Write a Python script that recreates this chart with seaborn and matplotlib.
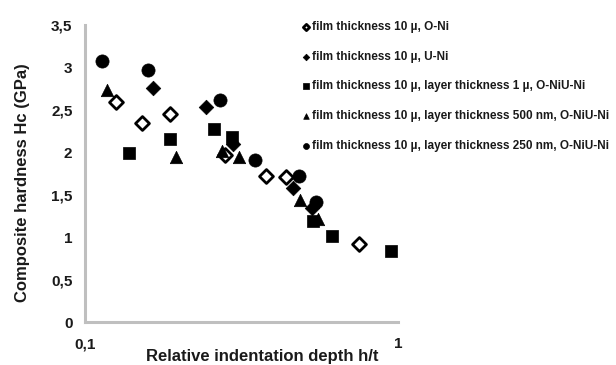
import numpy as np
import pandas as pd
import matplotlib
matplotlib.use("Agg")
import matplotlib.pyplot as plt
import seaborn as sns

# Relative indentation depth h/t and composite hardness Hc (GPa) per coating
on_x = [0.126, 0.152, 0.187, 0.280, 0.378, 0.438, 0.750]
on_y = [2.59, 2.35, 2.45, 1.97, 1.72, 1.71, 0.92]

un_x = [0.165, 0.243, 0.296, 0.463, 0.530]
un_y = [2.76, 2.53, 2.10, 1.58, 1.34]

l1_x = [0.138, 0.187, 0.258, 0.294, 0.536, 0.614, 0.948]
l1_y = [1.99, 2.16, 2.28, 2.18, 1.19, 1.01, 0.84]

l500_x = [0.118, 0.196, 0.273, 0.311, 0.486, 0.556]
l500_y = [2.73, 1.95, 2.01, 1.94, 1.44, 1.21]

l250_x = [0.113, 0.159, 0.270, 0.349, 0.484, 0.549]
l250_y = [3.08, 2.97, 2.62, 1.91, 1.72, 1.41]

series_names = [
    "film thickness 10 \u00b5, O-Ni",
    "film thickness 10 \u00b5, U-Ni",
    "film thickness 10 \u00b5, layer thickness 1 \u00b5, O-NiU-Ni",
    "film thickness 10 \u00b5, layer thickness 500 nm, O-NiU-Ni",
    "film thickness 10 \u00b5, layer thickness 250 nm, O-NiU-Ni",
]

y_ticks = [0, 0.5, 1, 1.5, 2, 2.5, 3, 3.5]
y_tick_labels = ["0", "0,5", "1", "1,5", "2", "2,5", "3", "3,5"]
x_ticks = [0.1, 1]
x_tick_labels = ["0,1", "1"]

frames = []
for name, xs, ys in zip(series_names,
                        [on_x, un_x, l1_x, l500_x, l250_x],
                        [on_y, un_y, l1_y, l500_y, l250_y]):
    frames.append(pd.DataFrame({"depth": xs, "hardness": ys, "coating": name}))
df = pd.concat(frames, ignore_index=True)

sns.set_theme(style="white")
plt.rcParams["font.family"] = ["Liberation Sans", "DejaVu Sans"]
plt.rcParams["font.weight"] = "bold"

fig = plt.figure(figsize=(6.16, 3.65), dpi=100)
ax = fig.add_axes([85 / 616, 43 / 365, 313 / 616, 297 / 365])

styles = [
    dict(marker="D", s=50, facecolor="white", edgecolor="black", linewidth=2.0),
    dict(marker="D", s=55, color="black", edgecolor="black", linewidth=0.5),
    dict(marker="s", s=70, color="black", edgecolor="black", linewidth=0.5),
    dict(marker="^", s=80, color="black", edgecolor="black", linewidth=0.5),
    dict(marker="o", s=90, color="black", edgecolor="black", linewidth=0.5),
]

for name, st in zip(series_names, styles):
    sub = df[df["coating"] == name]
    sns.scatterplot(data=sub, x="depth", y="hardness", ax=ax, label=name,
                    zorder=3, **st)

ax.set_xscale("log")
ax.set_xlim(0.1, 1)
ax.set_ylim(0, 3.5)
ax.set_xticks(x_ticks)
ax.set_xticklabels(x_tick_labels)
ax.minorticks_off()
ax.set_yticks(y_ticks)
ax.set_yticklabels(y_tick_labels)
ax.tick_params(axis="both", length=0, labelsize=11, colors="#1a1a1a")
ax.tick_params(axis="y", pad=9)
ax.tick_params(axis="x", pad=11)
for lab in ax.get_xticklabels() + ax.get_yticklabels():
    lab.set_fontweight("bold")

for side in ["top", "right"]:
    ax.spines[side].set_visible(False)
for side in ["left", "bottom"]:
    ax.spines[side].set_color("#bfbfbf")
    ax.spines[side].set_linewidth(2.2)

ax.set_xlabel("Relative indentation depth h/t", fontsize=12,
              fontweight="bold", color="#1a1a1a")
ax.xaxis.set_label_coords((262 - 85) / 313, (322 - 357) / 297)
ax.xaxis.label.set_va("center")
ax.set_ylabel("Composite hardness Hc (GPa)", fontsize=12,
              fontweight="bold", color="#1a1a1a")
ax.yaxis.set_label_coords((23 - 85) / 313, (322 - 183) / 297)
ax.yaxis.label.set_va("center")

leg = ax.legend(loc="upper left", bbox_to_anchor=(303 / 616, 1 - 21 / 365),
                bbox_transform=fig.transFigure, frameon=False, fontsize=8.5,
                markerscale=0.45, handlelength=0.55, handletextpad=0.2,
                labelspacing=1.5, borderpad=0, borderaxespad=0)
for t in leg.get_texts():
    t.set_fontweight("bold")
    t.set_color("#1a1a1a")

fig.savefig("out.png", dpi=100)
